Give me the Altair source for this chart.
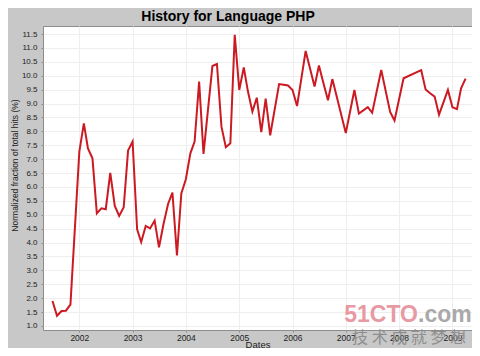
import altair as alt
import pandas as pd

dates = [
    "2001-07-01", "2001-08-01", "2001-09-01", "2001-10-01", "2001-11-01",
    "2002-01-01", "2002-02-01", "2002-03-01", "2002-04-01", "2002-05-01", "2002-06-01",
    "2002-07-01", "2002-08-01", "2002-09-01", "2002-10-01", "2002-11-01", "2002-12-01",
    "2003-01-01", "2003-02-01", "2003-03-01", "2003-04-01", "2003-05-01", "2003-06-01",
    "2003-07-01", "2003-08-01", "2003-09-01", "2003-10-01", "2003-11-01", "2003-12-01",
    "2004-01-01", "2004-02-01", "2004-03-01", "2004-04-01", "2004-05-01",
    "2004-07-01", "2004-08-01", "2004-09-01", "2004-10-01", "2004-11-01", "2004-12-01",
    "2005-01-01", "2005-02-01", "2005-03-01", "2005-04-01", "2005-05-01", "2005-06-01",
    "2005-07-01", "2005-08-01", "2005-10-01", "2005-11-01", "2005-12-01",
    "2006-01-01", "2006-02-01", "2006-04-01", "2006-06-01", "2006-07-01", "2006-08-01",
    "2006-09-01", "2006-10-01",
    "2007-01-01", "2007-03-01", "2007-04-01", "2007-06-01", "2007-07-01", "2007-09-01",
    "2007-11-01", "2007-12-01",
    "2008-02-01", "2008-06-01", "2008-07-01", "2008-08-01", "2008-09-01", "2008-10-01",
    "2008-12-01",
    "2009-01-01", "2009-02-01", "2009-03-01", "2009-04-01",
]
values = [
    1.90, 1.37, 1.54, 1.55, 1.77,
    7.27, 8.29, 7.39, 7.03, 5.05, 5.23,
    5.20, 6.51, 5.32, 4.96, 5.27, 7.31,
    7.63, 4.48, 4.02, 4.60, 4.51, 4.79,
    3.83, 4.67, 5.39, 5.80, 3.54, 5.77,
    6.28, 7.21, 7.63, 9.79, 7.19,
    10.35, 10.42, 8.17, 7.43, 7.57, 11.47,
    9.49, 10.30, 9.45, 8.71, 9.21, 7.97,
    9.18, 7.86, 9.70, 9.68, 9.65,
    9.49, 8.91, 10.89, 9.61, 10.37, 9.73,
    9.12, 9.88,
    7.94, 9.49, 8.64, 8.87, 8.67, 10.21,
    8.70, 8.39,
    9.91, 10.20, 9.51, 9.37, 9.25, 8.60,
    9.49,
    8.87, 8.80, 9.55, 9.90,
]
y_ticks = [1.0 + 0.5 * i for i in range(22)]
title_text = ["History for Language PHP"]
y_title = "Normalized fraction of total hits (%)"
x_title = "Dates"
wm_red = ["51CTO"]
wm_gray = [".com"]
wm_slogan = ["技 术 成 就 梦 想"]

df = pd.DataFrame({"date": dates, "value": values})

W, H = 429, 304

line = alt.Chart(df).mark_line(color="#cc1a22", strokeWidth=2).encode(
    x=alt.X(
        "date:T",
        title=x_title,
        scale=alt.Scale(domain=[alt.DateTime(year=2001, month=4, date=27),
                                alt.DateTime(year=2009, month=5, date=15)]),
        axis=alt.Axis(format="%Y", tickCount="year", labelFontSize=8.5, labelPadding=1,
                      labelColor="#222222", tickSize=2, tickColor="#888888",
                      domain=False, gridColor="#eeeeee", titleFontSize=9.5,
                      titleFontWeight="normal", titleColor="#222222",
                      titleBaseline="alphabetic", titleY=17, labelFlush=False),
    ),
    y=alt.Y(
        "value:Q",
        title=y_title,
        scale=alt.Scale(domain=[0.856, 11.79], nice=False, zero=False),
        axis=alt.Axis(values=y_ticks, format=".1f", labelFontSize=8, labelPadding=4,
                      labelColor="#222222", tickSize=2, tickColor="#888888",
                      domain=False, gridColor="#eeeeee", titleFontSize=8.5,
                      titleFontWeight="normal", titleColor="#222222",
                      titleX=-29, titleY=139, titleBaseline="middle", titleAlign="center",
                      titleAngle=-90),
    ),
)

title = alt.Chart(pd.DataFrame({"t": title_text})).mark_text(
    align="center", baseline="alphabetic", fontSize=14, fontWeight="bold",
    font="Liberation Sans", color="#000000",
).encode(text="t:N", x=alt.value(185), y=alt.value(-5))

wm1 = alt.Chart(pd.DataFrame({"t": wm_red})).mark_text(
    align="right", baseline="alphabetic", fontSize=23, fontWeight="bold",
    font="Liberation Sans", color="#e79aa3",
).encode(text="t:N", x=alt.value(375), y=alt.value(296))

wm2 = alt.Chart(pd.DataFrame({"t": wm_gray})).mark_text(
    align="left", baseline="alphabetic", fontSize=23, fontWeight="bold",
    font="Liberation Sans", color="#a9a9a9",
).encode(text="t:N", x=alt.value(375), y=alt.value(296))

wm3 = alt.Chart(pd.DataFrame({"t": wm_slogan})).mark_text(
    align="center", baseline="middle", fontSize=16,
    font="Noto Sans CJK SC", color="#8e8e8e",
).encode(text="t:N", x=alt.value(366), y=alt.value(312))

chart = alt.layer(line, title, wm1, wm2, wm3).properties(
    width=W,
    height=H,
    autosize=alt.AutoSizeParams(type="none"),
    padding={"left": 35, "top": 18, "right": 0, "bottom": 18},
).configure(
    background="#c8c8c8",
    font="Liberation Sans",
).configure_view(
    fill="white", stroke="#8c8c8c", strokeWidth=1,
)

chart.save("out.html", embed_options={"renderer": "svg", "actions": False})
